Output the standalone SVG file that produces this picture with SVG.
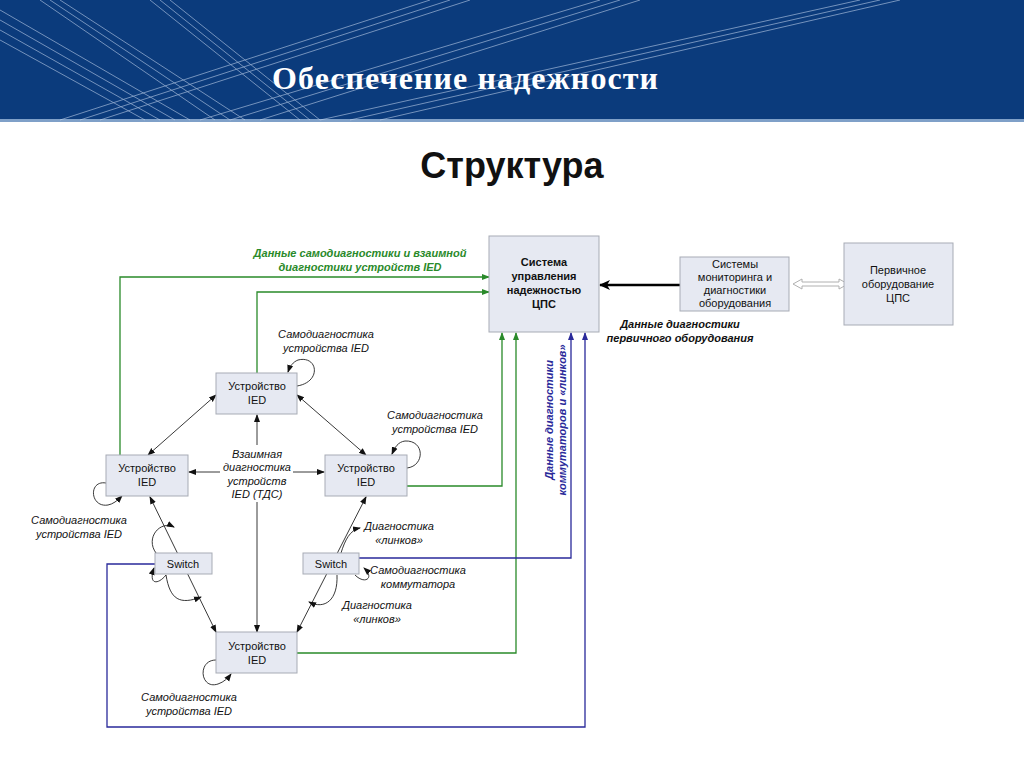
<svg xmlns="http://www.w3.org/2000/svg" width="1024" height="768" viewBox="0 0 1024 768">
<style>
.n{fill:#e6e9f2;stroke:#a7abb5;stroke-width:1}
.t{font-family:"Liberation Sans",Arial,sans-serif;font-size:11px;text-anchor:middle;fill:#111}
.b{font-weight:bold}
.i{font-style:italic}
.g{stroke:#2a8a2a;stroke-width:1.3;fill:none}
.u{stroke:#2a2a9a;stroke-width:1.3;fill:none}
.k{stroke:#222;stroke-width:0.9;fill:none}
.hl{stroke:#c8d8f0;stroke-width:0.8;opacity:0.7}
</style>
<defs>
<marker id="ag" markerWidth="8" markerHeight="8" refX="7" refY="4" orient="auto" markerUnits="userSpaceOnUse"><path d="M0,1L8,4L0,7Z" fill="#2a8a2a"/></marker>
<marker id="au" markerWidth="8" markerHeight="8" refX="7" refY="4" orient="auto" markerUnits="userSpaceOnUse"><path d="M0,1L8,4L0,7Z" fill="#2a2a9a"/></marker>
<marker id="ak" markerWidth="8" markerHeight="8" refX="7" refY="4" orient="auto-start-reverse" markerUnits="userSpaceOnUse"><path d="M0,1L8,4L0,7Z" fill="#111"/></marker>
<marker id="akb" markerWidth="12" markerHeight="12" refX="10" refY="6" orient="auto" markerUnits="userSpaceOnUse"><path d="M0,1L11,6L0,11L3,6Z" fill="#000"/></marker>
</defs>
<rect width="1024" height="768" fill="#fff"/>
<g id="header">
<rect x="0" y="0" width="1024" height="120" fill="#0b3b7c"/>
<rect x="0" y="119" width="1024" height="3" fill="#7fa0c8"/>
<g class="hl">
<line x1="0" y1="10" x2="190" y2="120"/><line x1="0" y1="20" x2="175" y2="120"/><line x1="0" y1="30" x2="160" y2="120"/><line x1="0" y1="40" x2="145" y2="120"/>
<line x1="40" y1="0" x2="215" y2="120"/><line x1="50" y1="0" x2="230" y2="120"/><line x1="60" y1="0" x2="245" y2="120"/>
<line x1="150" y1="0" x2="300" y2="120"/><line x1="160" y1="0" x2="310" y2="120"/><line x1="170" y1="0" x2="320" y2="120"/>
<line x1="60" y1="120" x2="430" y2="0"/><line x1="80" y1="120" x2="450" y2="0"/><line x1="100" y1="120" x2="470" y2="0"/>
<line x1="200" y1="120" x2="600" y2="0"/><line x1="230" y1="120" x2="620" y2="0"/><line x1="260" y1="120" x2="640" y2="0"/>
<line x1="320" y1="120" x2="860" y2="0"/><line x1="350" y1="120" x2="880" y2="0"/><line x1="380" y1="120" x2="900" y2="0"/>
</g>
<text x="272" y="89" font-family="Liberation Serif,serif" font-size="32" font-weight="bold" fill="#fff" textLength="386">Обеспечение надежности</text>
</g>
<text x="512" y="178" font-family="Liberation Sans,Arial,sans-serif" font-size="36" font-weight="bold" text-anchor="middle" fill="#111">Структура</text>
<g id="connectors">
<path class="g" d="M120,455V277H489" marker-end="url(#ag)"/>
<path class="g" d="M257,373V292H489" marker-end="url(#ag)"/>
<path class="g" d="M407,486H502V333" marker-end="url(#ag)"/>
<path class="g" d="M297,653H516V333" marker-end="url(#ag)"/>
<path class="u" d="M359,558H571V333" marker-end="url(#au)"/>
<path class="u" d="M155,564H107V727H585V333" marker-end="url(#au)"/>
<path d="M680,285H600" stroke="#000" stroke-width="2.5" marker-end="url(#akb)"/>
<path d="M793,284l9,-5v3h37v-3l9,5l-9,5v-3h-37v3z" fill="#fff" stroke="#b0b0b0"/>
<line class="k" x1="216" y1="395" x2="148" y2="455" marker-start="url(#ak)" marker-end="url(#ak)"/>
<line class="k" x1="297" y1="395" x2="366" y2="455" marker-start="url(#ak)" marker-end="url(#ak)"/>
<line class="k" x1="257" y1="445" x2="257" y2="415" marker-end="url(#ak)"/>
<line class="k" x1="257" y1="502" x2="257" y2="632" marker-end="url(#ak)"/>
<line class="k" x1="220" y1="472" x2="189" y2="472" marker-end="url(#ak)"/>
<line class="k" x1="293" y1="472" x2="324" y2="472" marker-end="url(#ak)"/>
<line class="k" x1="150" y1="497" x2="216" y2="632" marker-start="url(#ak)" marker-end="url(#ak)"/>
<line class="k" x1="366" y1="497" x2="297" y2="632" marker-start="url(#ak)" marker-end="url(#ak)"/>
<path class="k" d="M297,386C322,382 318,355 298,360C293,362 290,366 288,372" marker-end="url(#ak)"/>
<path class="k" d="M407,468C425,466 425,440 405,441C398,442 395,447 392,454" marker-end="url(#ak)"/>
<path class="k" d="M106,483C88,480 90,508 108,505C113,504 117,501 122,496" marker-end="url(#ak)"/>
<path class="k" d="M216,660C197,660 200,690 218,684C224,682 228,678 231,674" marker-end="url(#ak)"/>
<path class="k" d="M156,553C145,538 160,520 174,527" marker-end="url(#ak)"/>
<path class="k" d="M166,575C158,585 148,585 154,568" marker-end="url(#ak)"/>
<path class="k" d="M166,575C170,600 180,605 201,597" marker-end="url(#ak)"/>
<path class="k" d="M355,575C365,585 375,578 364,568" marker-end="url(#ak)"/>
<path class="k" d="M337,575C338,600 325,610 309,602" marker-end="url(#ak)"/>
<path class="k" d="M341,553C345,540 350,530 360,528" marker-end="url(#ak)"/>
</g>
<g id="n-cps"><rect class="n" x="489" y="236" width="110" height="96"/>
<text class="t b"><tspan x="544" y="266">Система</tspan><tspan x="544" y="280">управления</tspan><tspan x="544" y="294">надежностью</tspan><tspan x="544" y="308">ЦПС</tspan></text></g>
<g id="n-mon"><rect class="n" x="680" y="257" width="109" height="54"/>
<text class="t"><tspan x="735" y="268">Системы</tspan><tspan x="735" y="281">мониторинга и</tspan><tspan x="735" y="294">диагностики</tspan><tspan x="735" y="307">оборудования</tspan></text></g>
<g id="n-prim"><rect class="n" x="844" y="243" width="109" height="82"/>
<text class="t"><tspan x="898" y="274">Первичное</tspan><tspan x="898" y="288">оборудование</tspan><tspan x="898" y="302">ЦПС</tspan></text></g>
<g id="n-ied-top"><rect class="n" x="216" y="373" width="81" height="41"/>
<text class="t"><tspan x="257" y="390">Устройство</tspan><tspan x="257" y="404">IED</tspan></text></g>
<g id="n-ied-left"><rect class="n" x="106" y="455" width="82" height="41"/>
<text class="t"><tspan x="147" y="472">Устройство</tspan><tspan x="147" y="486">IED</tspan></text></g>
<g id="n-ied-right"><rect class="n" x="325" y="455" width="82" height="41"/>
<text class="t"><tspan x="366" y="472">Устройство</tspan><tspan x="366" y="486">IED</tspan></text></g>
<g id="n-ied-bottom"><rect class="n" x="216" y="632" width="81" height="41"/>
<text class="t"><tspan x="257" y="650">Устройство</tspan><tspan x="257" y="664">IED</tspan></text></g>
<g id="n-sw-left"><rect class="n" x="155" y="553" width="57" height="21"/><text class="t" x="183" y="568">Switch</text></g>
<g id="n-sw-right"><rect class="n" x="303" y="553" width="56" height="21"/><text class="t" x="331" y="568">Switch</text></g>
<g id="labels">
<text class="t b i" style="fill:#2a8a2a"><tspan x="360" y="257">Данные самодиагностики и взаимной</tspan><tspan x="360" y="271">диагностики устройств IED</tspan></text>
<text class="t b i"><tspan x="680" y="328">Данные диагностики</tspan><tspan x="680" y="342">первичного оборудования</tspan></text>
<text class="t b i" style="fill:#2a2a9a" transform="translate(555,420) rotate(-90)"><tspan x="0" y="-2">Данные диагностики</tspan><tspan x="0" y="11">коммутаторов и «линков»</tspan></text>
<text class="t i"><tspan x="326" y="338">Самодиагностика</tspan><tspan x="326" y="352">устройства IED</tspan></text>
<text class="t i"><tspan x="435" y="419">Самодиагностика</tspan><tspan x="435" y="433">устройства IED</tspan></text>
<text class="t i"><tspan x="79" y="524">Самодиагностика</tspan><tspan x="79" y="538">устройства IED</tspan></text>
<text class="t i"><tspan x="189" y="701">Самодиагностика</tspan><tspan x="189" y="715">устройства IED</tspan></text>
<text class="t i"><tspan x="257" y="458">Взаимная</tspan><tspan x="257" y="471">диагностика</tspan><tspan x="257" y="485">устройств</tspan><tspan x="257" y="498">IED (ТДС)</tspan></text>
<text class="t i"><tspan x="399" y="530">Диагностика</tspan><tspan x="399" y="544">«линков»</tspan></text>
<text class="t i"><tspan x="418" y="574">Самодиагностика</tspan><tspan x="418" y="588">коммутатора</tspan></text>
<text class="t i"><tspan x="377" y="609">Диагностика</tspan><tspan x="377" y="623">«линков»</tspan></text>
</g>
</svg>
